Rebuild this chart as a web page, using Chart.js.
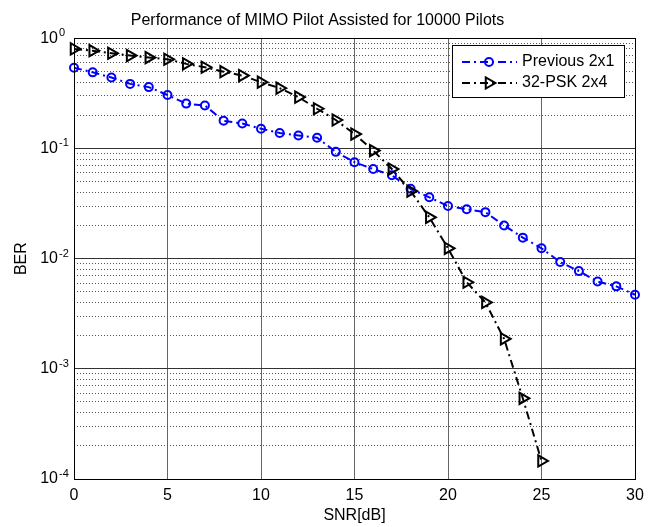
<!DOCTYPE html>
<html>
<head>
<meta charset="utf-8">
<script src="https://cdn.jsdelivr.net/npm/chart.js@4.4.1/dist/chart.umd.min.js"></script>
<style>
  html, body { margin: 0; padding: 0; background: #fff; }
  canvas { display: block; }
</style>
</head>
<body>
<canvas id="ber" width="653" height="527"></canvas>
<script>
// SNR steps in dB
const snr = [0,1,2,3,4,5,6,7,8,9,10,11,12,13,14,15,16,17,18,19,20,21,22,23,24,25,26,27,28,29,30];

// BER
const prev2x1 = [0.54, 0.49, 0.44, 0.385, 0.36, 0.305, 0.255, 0.245, 0.178, 0.168,
  0.151, 0.138, 0.131, 0.125, 0.093, 0.075, 0.065, 0.057, 0.043, 0.036,
  0.030, 0.028, 0.0264, 0.020, 0.0155, 0.0124, 0.0093, 0.0077, 0.0062, 0.0056, 0.0047];
const psk2x4 = [0.80, 0.77, 0.73, 0.695, 0.667, 0.644, 0.585, 0.545, 0.497, 0.458,
  0.399, 0.352, 0.292, 0.229, 0.181, 0.135, 0.0955, 0.065, 0.041, 0.0237,
  0.0124, 0.0061, 0.0040, 0.00187, 0.00054, 0.000146];

// axes
const xTicks = [0, 5, 10, 15, 20, 25, 30];
const yDecades = [1e-4, 1e-3, 1e-2, 1e-1, 1];
const yExps = ['-4', '-3', '-2', '-1', '0'];
const minorSteps = [2, 3, 4, 5, 6, 7, 8, 9];

const FONT = '"Liberation Sans", Arial, Helvetica, sans-serif';
Chart.defaults.font.family = FONT;
Chart.defaults.color = '#000';

const isDecade = v => Math.abs(Math.log10(v) - Math.round(Math.log10(v))) < 1e-9;

const yAll = [];
yDecades.forEach(d => {
  yAll.push(d);
  if (d < 1) minorSteps.forEach(m => yAll.push(d * m));
});

// frame, exponents and legend
const berFrame = {
  id: 'berFrame',
  afterDraw(chart) {
    const { ctx, chartArea: a, scales } = chart;
    ctx.save();

    ctx.font = '11px ' + FONT;
    ctx.fillStyle = '#000';
    ctx.textAlign = 'left';
    ctx.textBaseline = 'alphabetic';
    yDecades.forEach((v, i) => {
      ctx.fillText(yExps[i], a.left - 15, scales.y.getPixelForValue(v) - 2);
    });

    const L = Math.round(a.left) + 0.5, T = Math.round(a.top) + 0.5;
    const R = Math.round(a.right) + 0.5, B = Math.round(a.bottom) + 0.5;
    ctx.strokeStyle = '#000';
    ctx.lineWidth = 1;
    ctx.strokeRect(L, T, R - L, B - T);

    // legend box
    const bx = 452.5, by = 45.5, bw = 172, bh = 52;
    ctx.fillStyle = '#fff';
    ctx.fillRect(bx, by, bw, bh);
    ctx.strokeRect(bx, by, bw, bh);

    chart.data.datasets.forEach((ds, i) => {
      const ly = 62 + i * 21;
      ctx.strokeStyle = ds.borderColor;
      ctx.lineWidth = ds.borderWidth;
      ctx.setLineDash(ds.borderDash);
      ctx.beginPath();
      ctx.moveTo(462, ly);
      ctx.lineTo(517, ly);
      ctx.stroke();
      ctx.setLineDash([]);
      ctx.fillStyle = 'rgba(0,0,0,0)';
      ctx.strokeStyle = ds.pointBorderColor;
      ctx.lineWidth = ds.pointBorderWidth;
      Chart.helpers.drawPoint(ctx, {
        pointStyle: ds.pointStyle,
        rotation: ds.pointRotation || 0,
        radius: ds.pointRadius,
        borderWidth: ds.pointBorderWidth
      }, 489, ly);
      ctx.fillStyle = '#000';
      ctx.font = '16px ' + FONT;
      ctx.textBaseline = 'middle';
      ctx.fillText(ds.label, 522, ly);
    });
    ctx.restore();
  }
};

new Chart(document.getElementById('ber'), {
  type: 'line',
  data: {
    datasets: [{
      label: 'Previous 2x1',
      data: snr.map((s, i) => ({ x: s, y: prev2x1[i] })),
      borderColor: '#0000ff',
      borderWidth: 2,
      borderDash: [8, 4, 2, 4],
      pointStyle: 'circle',
      pointRadius: 4,
      pointBorderWidth: 2,
      pointBorderColor: '#0000ff',
      pointBackgroundColor: 'rgba(0,0,0,0)',
      order: 1,
      clip: false
    }, {
      label: '32-PSK 2x4',
      data: psk2x4.map((v, i) => ({ x: snr[i], y: v })),
      borderColor: '#000',
      borderWidth: 2,
      borderDash: [8, 4, 2, 4],
      pointStyle: 'triangle',
      pointRotation: 90,
      pointRadius: 6.5,
      pointBorderWidth: 2,
      pointBorderColor: '#000',
      pointBackgroundColor: 'rgba(0,0,0,0)',
      order: 0,
      clip: false
    }]
  },
  options: {
    responsive: false,
    animation: false,
    layout: { padding: { left: 0, right: 18, top: 0, bottom: 0 } },
    plugins: {
      legend: { display: false },
      tooltip: { enabled: false },
      title: {
        display: true,
        text: 'Performance of MIMO Pilot Assisted for 10000 Pilots',
        font: { size: 16, weight: 'normal' },
        color: '#000',
        padding: { top: 11, bottom: 8 }
      }
    },
    scales: {
      x: {
        type: 'linear', min: 0, max: 30,
        afterBuildTicks: s => { s.ticks = xTicks.map(v => ({ value: v })); },
        afterFit: s => { s.height = 48; },
        ticks: { font: { size: 16 }, padding: 7, autoSkip: false, maxRotation: 0 },
        grid: { color: '#666', drawTicks: false },
        border: { display: false },
        title: { display: true, text: 'SNR[dB]', font: { size: 16 }, padding: { top: 0, bottom: 2 } }
      },
      y: {
        type: 'logarithmic', min: 1e-4, max: 1,
        afterBuildTicks: s => { s.ticks = yAll.map(v => ({ value: v })); },
        afterFit: s => { s.width = 74; },
        ticks: { font: { size: 16 }, padding: 16, autoSkip: false, callback: v => isDecade(v) ? '10' : '' },
        grid: { color: '#555', drawTicks: false },
        border: { display: false, dash: [1, 2] },
        title: { display: true, text: 'BER', font: { size: 16 }, padding: { top: 12, bottom: 0 } }
      },
      y2: {
        type: 'logarithmic', position: 'right', min: 1e-4, max: 1,
        afterBuildTicks: s => { s.ticks = yDecades.map(v => ({ value: v })); },
        afterFit: s => { s.width = 0; },
        ticks: { display: false },
        grid: { color: '#333', drawTicks: false },
        border: { display: false }
      }
    }
  },
  plugins: [berFrame]
});
</script>
</body>
</html>
